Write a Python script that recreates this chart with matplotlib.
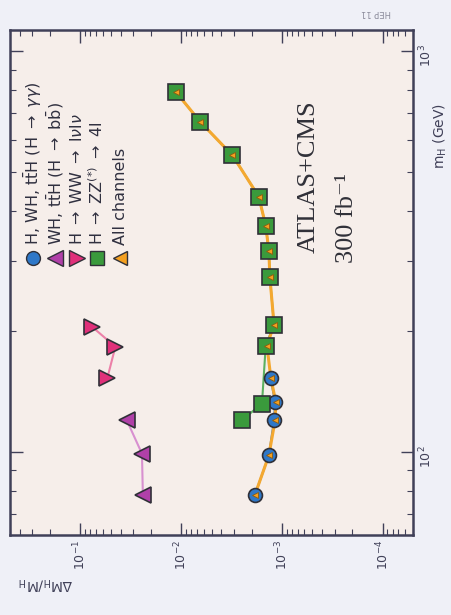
import matplotlib
matplotlib.use("Agg")
import matplotlib.pyplot as plt

# ==================================================================
#  Higgs mass precision, ATLAS+CMS 300 fb-1 (scan is turned on its side,
#  so dM/M runs along the horizontal and m_H along the vertical)
# ==================================================================

gg_mh = [78, 98, 120, 133, 153]
gg_dm = [1.86e-3, 1.35e-3, 1.2e-3, 1.17e-3, 1.3e-3]

bb_mh = [78, 99, 120]
bb_dm = [0.024, 0.0245, 0.0347]

ww_mh = [153, 183, 205]
ww_dm = [0.054, 0.045, 0.076]

zz_mh = [120, 132, 184, 208, 274, 318, 367, 434, 550, 668, 790]
zz_dm = [2.5e-3, 1.58e-3, 1.45e-3, 1.2e-3, 1.32e-3, 1.35e-3, 1.45e-3,
         1.7e-3, 3.1e-3, 6.5e-3, 1.12e-2]

all_mh = [78, 98, 120, 133, 153, 184, 208, 274, 318, 367, 434, 550, 668, 790]
all_dm = [1.86e-3, 1.35e-3, 1.17e-3, 1.15e-3, 1.29e-3, 1.41e-3, 1.2e-3,
          1.32e-3, 1.35e-3, 1.45e-3, 1.7e-3, 3.1e-3, 6.5e-3, 1.12e-2]

legend_labels = [r'H, WH, t$\bar{\rm t}$H (H $\rightarrow$ $\gamma\gamma$)',
                 r'WH, t$\bar{\rm t}$H (H $\rightarrow$ b$\bar{\rm b}$)',
                 r'H $\rightarrow$ WW $\rightarrow$ l$\nu$l$\nu$',
                 r'H $\rightarrow$ ZZ$^{(*)}$ $\rightarrow$ 4l',
                 'All channels']

fig = plt.figure(figsize=(4.52, 6.15), dpi=100, facecolor='#eff0f7')
ax = fig.add_axes([0.022, 0.130, 0.892, 0.821])
ax.set_facecolor('#f6eeea')

# connecting lines
ax.plot(gg_dm, gg_mh, color='#5a7fa8', lw=1.5, zorder=2)
ax.plot(bb_dm, bb_mh, color='#d890d0', lw=1.5, zorder=2)
ax.plot(ww_dm, ww_mh, color='#ec80a8', lw=1.5, zorder=2)
ax.plot(zz_dm, zz_mh, color='#5cb060', lw=1.5, zorder=2)
ax.plot(all_dm, all_mh, color='#f4a830', lw=2.2, zorder=3)

# markers
ms = dict(ls='none', markeredgecolor='#303038', markeredgewidth=1.2)
ax.plot(gg_dm, gg_mh, marker='o', ms=10, color='#2f78c8', zorder=4, **ms)
ax.plot(bb_dm, bb_mh, marker='<', ms=11, color='#b040a8', zorder=4, **ms)
ax.plot(ww_dm, ww_mh, marker='>', ms=11, color='#e0307a', zorder=4, **ms)
ax.plot(zz_dm, zz_mh, marker='s', ms=11, color='#3a9a3c', zorder=4, **ms)
ax.plot(all_dm, all_mh, marker='<', ms=5, color='#f4a020', ls='none',
        markeredgecolor='#8a5a10', markeredgewidth=0.6, zorder=5)

# manual rotated legend
leg_style = [dict(marker='o', ms=10, color='#2f78c8'),
             dict(marker='<', ms=11, color='#b040a8'),
             dict(marker='>', ms=11, color='#e0307a'),
             dict(marker='s', ms=10, color='#3a9a3c'),
             dict(marker='<', ms=10, color='#f4a020')]
leg_x = [0.057, 0.112, 0.166, 0.216, 0.273]
for lx, st, lab in zip(leg_x, leg_style, legend_labels):
    ax.plot([lx], [0.549], transform=ax.transAxes, ls='none',
            markeredgecolor='#303038', markeredgewidth=1.0, clip_on=False, **st)
    ax.text(lx, 0.575, lab, transform=ax.transAxes, rotation=90,
            ha='center', va='bottom', fontsize=11.5, color='#303040')

ax.text(0.74, 0.558, 'ATLAS+CMS', transform=ax.transAxes, rotation=90,
        ha='center', va='bottom', fontsize=19,
        family=['Liberation Serif', 'DejaVu Serif'], color='#303038')
ax.text(0.835, 0.538, '300 fb\u207b\u00b9', transform=ax.transAxes, rotation=90,
        ha='center', va='bottom', fontsize=19,
        family=['Liberation Serif', 'DejaVu Serif'], color='#303038')

ax.set_xscale('log')
ax.set_yscale('log')
ax.set_xlim(0.5, 5e-5)
ax.set_ylim(62, 1130)

ax.tick_params(which='both', direction='in', top=True, bottom=True,
               left=True, right=True, labelleft=False, labelright=True,
               colors='#404058', labelcolor='#404058')
ax.tick_params(which='major', length=9, width=1)
ax.tick_params(which='minor', length=4, width=0.8)
ax.tick_params(axis='x', labelrotation=90, labelsize=9)
ax.tick_params(axis='y', labelrotation=90, labelsize=9)
for s in ax.spines.values():
    s.set_color('#404058')
    s.set_linewidth(1.8)

ax.yaxis.set_label_position('right')
ax.set_ylabel(r'm$_{\rm H}$ (GeV)', rotation=90, fontsize=10, color='#404058')
ax.yaxis.set_label_coords(1.045, 0.79)
ax.set_xlabel(r'$\Delta$M$_{\rm H}$/M$_{\rm H}$', rotation=180, fontsize=10,
              color='#404058')
ax.xaxis.set_label_coords(0.09, -0.08)

fig.text(0.80, 0.975, 'HEP 11', fontsize=6, color='#8a8a9a', rotation=180)

fig.savefig('out.png', dpi=100, facecolor=fig.get_facecolor())
